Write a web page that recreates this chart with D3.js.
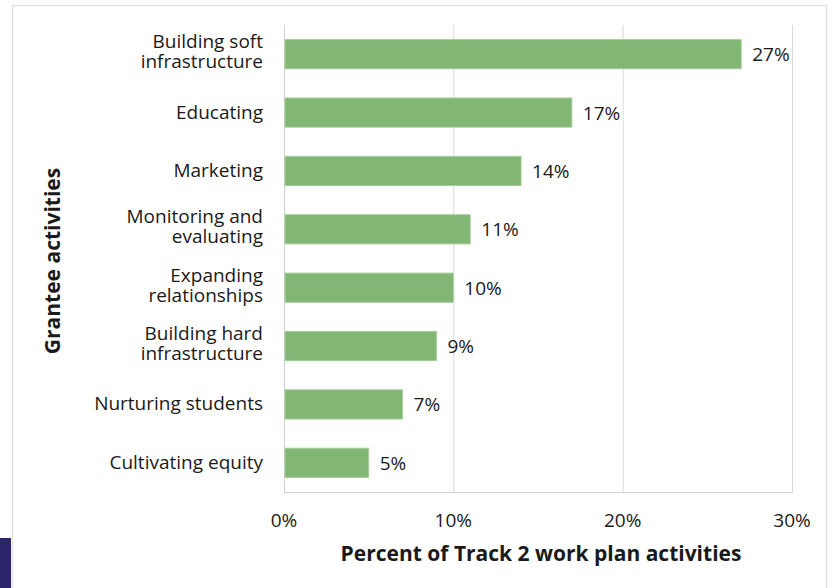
<!DOCTYPE html>
<html>
<head>
<meta charset="utf-8">
<script src="https://cdn.jsdelivr.net/npm/d3@7"></script>
<style>
  html, body { margin: 0; padding: 0; background: #fff; }
  svg { display: block; font-family: "Open Sans", Lato, sans-serif; }
</style>
</head>
<body>
<svg id="chart" width="832" height="588"></svg>
<script>
// Share of Track 2 work plan activities by grantee activity
const categories = [
  ["Building soft", "infrastructure"],
  ["Educating"],
  ["Marketing"],
  ["Monitoring and", "evaluating"],
  ["Expanding", "relationships"],
  ["Building hard", "infrastructure"],
  ["Nurturing students"],
  ["Cultivating equity"]
];
const values = [27, 17, 14, 11, 10, 9, 7, 5];
const tickValues = [0, 10, 20, 30];
const xTitle = "Percent of Track 2 work plan activities";
const yTitle = "Grantee activities";

const svg = d3.select("#chart");
const margin = { left: 284, right: 40, top: 25, bottom: 96 };
const labelSize = 19;
const titleSize = 21;
const textColor = "#1a1a1a";

// frame around the chart
svg.append("rect")
  .attr("x", 12.5).attr("y", 5.5)
  .attr("width", 814).attr("height", 600)
  .attr("fill", "#fff").attr("stroke", "#e3e3e3").attr("stroke-width", 1.5);

// corner block
svg.append("rect")
  .attr("x", 0).attr("y", 538).attr("width", 11).attr("height", 50)
  .attr("fill", "#2b2569");

const x = d3.scaleLinear().domain([0, 30]).range([margin.left, 792]);
const y = d3.scaleBand()
  .domain(d3.range(categories.length))
  .range([margin.top, 492])
  .paddingInner(0.5).paddingOuter(0.25);

// vertical gridlines
svg.append("g").selectAll("line")
  .data(tickValues.slice(1))
  .join("line")
  .attr("x1", d => x(d) + 0.5).attr("x2", d => x(d) + 0.5)
  .attr("y1", margin.top).attr("y2", 492)
  .attr("stroke", "#d9d9d9").attr("stroke-width", 1);

// axis lines
svg.append("line")
  .attr("x1", x(0) + 0.5).attr("x2", x(0) + 0.5)
  .attr("y1", margin.top).attr("y2", 492.5)
  .attr("stroke", "#d0d0d0");
svg.append("line")
  .attr("x1", x(0)).attr("x2", x(30) + 1)
  .attr("y1", 492.5).attr("y2", 492.5)
  .attr("stroke", "#d0d0d0");

// bars
svg.append("g").selectAll("rect")
  .data(values)
  .join("rect")
  .attr("x", x(0) + 1)
  .attr("y", (d, i) => y(i))
  .attr("width", d => x(d) - x(0) - 1)
  .attr("height", y.bandwidth())
  .attr("fill", "#82b674")
  .attr("stroke", "#a6cf9b")
  .attr("stroke-width", 1);

// value labels
svg.append("g").selectAll("text")
  .data(values)
  .join("text")
  .attr("x", d => x(d) + 11)
  .attr("y", (d, i) => y(i) + y.bandwidth() / 2 + 7)
  .attr("font-size", labelSize)
  .attr("fill", textColor)
  .text(d => d + "%");

// category labels, wrapped onto one or two lines
const lineHeight = 20;
const catG = svg.append("g").selectAll("text")
  .data(categories)
  .join("text")
  .attr("text-anchor", "end")
  .attr("font-size", labelSize)
  .attr("fill", textColor)
  .attr("x", 263)
  .attr("y", (d, i) => y(i) + y.bandwidth() / 2 + 6 - (d.length - 1) * 12);
catG.each(function(lines) {
  const t = d3.select(this);
  lines.forEach((ln, k) => {
    t.append("tspan")
      .attr("x", 263)
      .attr("dy", k === 0 ? 0 : lineHeight)
      .text(ln);
  });
});

// x tick labels
svg.append("g").selectAll("text")
  .data(tickValues)
  .join("text")
  .attr("x", d => x(d))
  .attr("y", 527)
  .attr("text-anchor", "middle")
  .attr("font-size", labelSize)
  .attr("fill", textColor)
  .text(d => d + "%");

// axis titles
svg.append("text")
  .attr("x", 541).attr("y", 561)
  .attr("text-anchor", "middle")
  .attr("font-size", titleSize).attr("font-weight", "bold")
  .attr("fill", textColor)
  .text(xTitle);

svg.append("text")
  .attr("transform", "translate(60,261) rotate(-90)")
  .attr("text-anchor", "middle")
  .attr("font-size", titleSize).attr("font-weight", "bold")
  .attr("fill", textColor)
  .text(yTitle);
</script>
</body>
</html>
